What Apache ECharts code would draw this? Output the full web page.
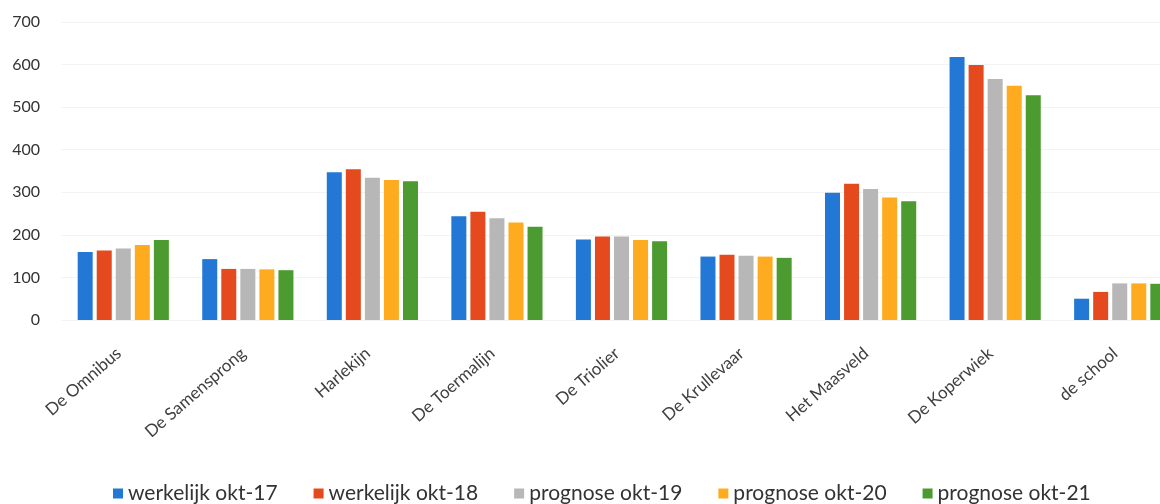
<!DOCTYPE html>
<html>
<head>
<meta charset="utf-8">
<script src="https://cdn.jsdelivr.net/npm/echarts@6/dist/echarts.min.js"></script>
<style>
    html, body { margin: 0; padding: 0; background: #fff; overflow: hidden; }
    /* wider than the window: the last group is cut off at the right edge, as in the original */
    #chart { width: 1182px; height: 504px; }
</style>
</head>
<body>
<div id="chart"></div>
<script>
var categories = ['De Omnibus', 'De Samensprong', 'Harlekijn', 'De Toermalijn', 'De Triolier',
    'De Krullevaar', 'Het Maasveld', 'De Koperwiek', 'de school'];
var seriesNames = ['werkelijk okt-17', 'werkelijk okt-18', 'prognose okt-19', 'prognose okt-20', 'prognose okt-21'];
var okt17 = [160, 143, 347, 244, 189, 149, 299, 618, 50];
var okt18 = [163, 120, 354, 254, 196, 153, 320, 599, 66];
var okt19 = [168, 120, 334, 239, 196, 151, 308, 566, 86];
var okt20 = [176, 119, 329, 229, 188, 149, 288, 550, 86];
var okt21 = [188, 117, 326, 219, 185, 146, 279, 528, 85];
var colors = ['#2278d4', '#e54a1f', '#b7b7b7', '#ffab1f', '#4c9b30'];

var allData = [okt17, okt18, okt19, okt20, okt21];
var series = [];
for (var i = 0; i < seriesNames.length; i++) {
    series.push({
        name: seriesNames[i],
        type: 'bar',
        barWidth: 15,
        barGap: '27%',
        itemStyle: {color: colors[i]},
        data: allData[i]
    });
}

var option = {
    textStyle: {fontFamily: 'Lato'},
    color: colors,
    animation: false,
    grid: {left: 61, top: 22, right: 0, height: 298},
    legend: {
        top: 478,
        left: 108,
        icon: 'rect',
        itemWidth: 10,
        itemHeight: 10,
        itemGap: 36,
        textStyle: {fontSize: 21, color: '#333'},
        data: seriesNames
    },
    xAxis: {
        type: 'category',
        data: categories,
        axisLine: {show: false},
        axisTick: {show: false},
        axisLabel: {rotate: 41, fontSize: 17, color: '#404040', margin: 27, interval: 0,
            padding: [0, 6, 0, 0]}
    },
    yAxis: {
        type: 'value',
        min: 0,
        max: 700,
        interval: 100,
        axisLine: {show: false},
        axisTick: {show: false},
        splitLine: {lineStyle: {color: '#f3f3f3'}},
        axisLabel: {fontSize: 16, color: '#333', margin: 21}
    },
    series: series
};

var chart = echarts.init(document.getElementById('chart'));
chart.setOption(option);
</script>
</body>
</html>
